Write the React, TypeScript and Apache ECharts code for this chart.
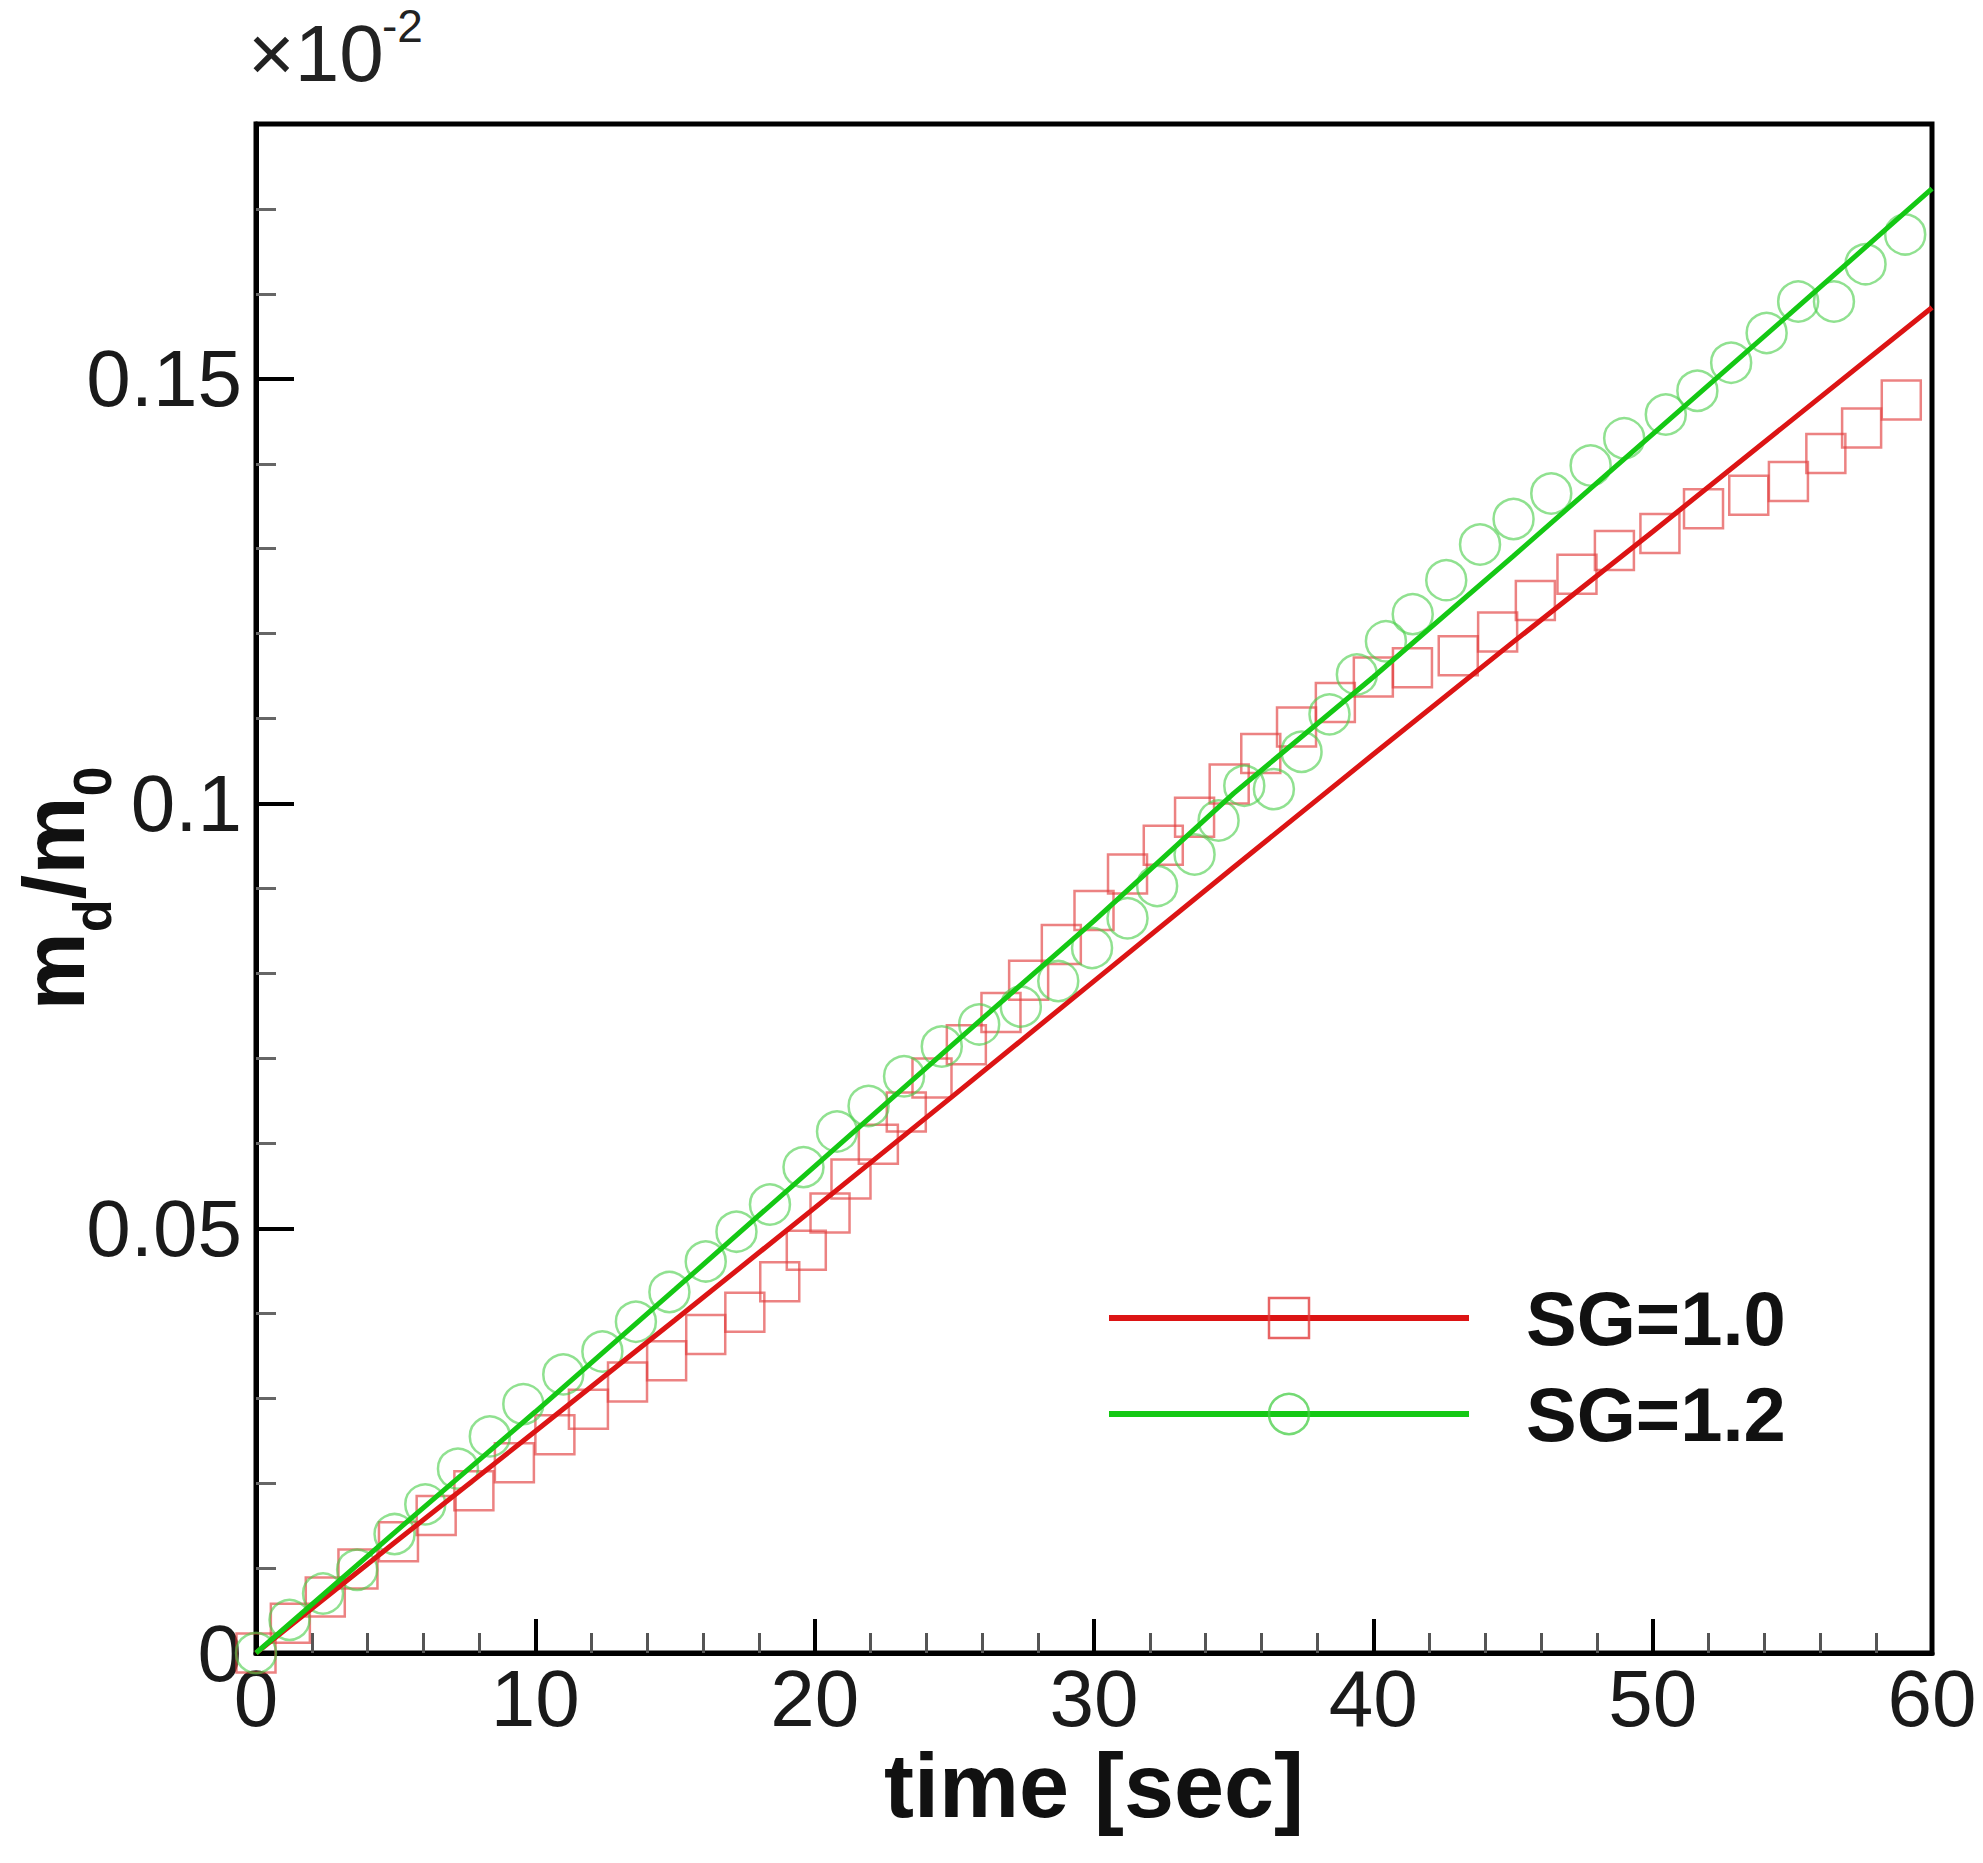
import React, { useEffect, useRef } from "react";
import * as echarts from "echarts";

// ---- data ----
const xTicks = [0, 10, 20, 30, 40, 50, 60];
const yTicks = [0, 0.05, 0.1, 0.15];

// solid curves
const lineT = [0, 5, 10, 15, 20, 25, 30, 35, 40, 45, 50, 55, 60];
const redLineV = [0, 0.0131, 0.0261, 0.0392, 0.0524, 0.0657, 0.0791, 0.0925, 0.1058, 0.119, 0.132, 0.1452, 0.1584];
const greenLineV = [0, 0.0143, 0.0284, 0.0428, 0.0573, 0.0718, 0.0862, 0.1012, 0.1149, 0.1291, 0.1435, 0.1579, 0.1724];

// symbols
const redMarkT = [0, 1.23, 2.48, 3.65, 5.1, 6.45, 7.8, 9.25, 10.7, 11.9, 13.3, 14.7, 16.1, 17.5, 18.75, 19.7, 20.55, 21.3, 22.28, 23.28, 24.2, 25.43, 26.67, 27.66, 28.83, 30.0, 31.2, 32.48, 33.6, 34.84, 35.97, 37.25, 38.64, 40.0, 41.4, 43.04, 44.45, 45.8, 47.29, 48.63, 50.26, 51.82, 53.44, 54.86, 56.2, 57.48, 58.9];
const redMarkV = [0, 0.0035, 0.0066, 0.0099, 0.0131, 0.0162, 0.0191, 0.0224, 0.0257, 0.0287, 0.0319, 0.0344, 0.0375, 0.0401, 0.0437, 0.0474, 0.0518, 0.0558, 0.0599, 0.0637, 0.0677, 0.0716, 0.0754, 0.0792, 0.0834, 0.0874, 0.0917, 0.0951, 0.0984, 0.1023, 0.1059, 0.109, 0.1119, 0.1149, 0.116, 0.1174, 0.1202, 0.1239, 0.127, 0.1298, 0.1318, 0.1347, 0.1363, 0.1379, 0.1412, 0.1442, 0.1475];
const greenMarkT = [0, 1.2, 2.4, 3.62, 4.96, 6.06, 7.23, 8.37, 9.57, 11.0, 12.4, 13.6, 14.8, 16.1, 17.2, 18.4, 19.6, 20.8, 21.93, 23.2, 24.55, 25.89, 27.38, 28.72, 29.93, 31.2, 32.26, 33.6, 34.46, 35.38, 36.44, 37.43, 38.43, 39.41, 40.45, 41.41, 42.61, 43.82, 45.02, 46.37, 47.78, 48.98, 50.47, 51.6, 52.81, 54.08, 55.21, 56.49, 57.62, 59.04];
const greenMarkV = [0, 0.0039, 0.007, 0.0098, 0.014, 0.0175, 0.0217, 0.0255, 0.0293, 0.0328, 0.0355, 0.039, 0.0425, 0.0461, 0.0496, 0.0528, 0.0572, 0.0614, 0.0644, 0.0679, 0.0714, 0.074, 0.0761, 0.0791, 0.083, 0.0865, 0.0903, 0.094, 0.098, 0.1021, 0.1017, 0.1061, 0.1105, 0.1152, 0.1191, 0.1223, 0.1263, 0.1305, 0.1335, 0.1365, 0.1398, 0.143, 0.1458, 0.1486, 0.1519, 0.1554, 0.1591, 0.1591, 0.1635, 0.167];

const seriesNames = ["SG=1.0", "SG=1.2"];
// y-axis title pieces: [text, isSubscript]
const yTitleParts: [string, boolean][] = [["m", false], ["d", true], ["/m", false], ["0", true]];

const zip = (a: number[], b: number[]) => a.map((v, i) => [v, b[i]]);

const RED = "#dc1414";
const GREEN = "#14c814";
const RED_MARK = "rgba(226,60,60,0.8)";
const GREEN_MARK = "rgba(70,205,70,0.75)";
const FONT = "'Liberation Sans', Arial, Helvetica, sans-serif";

// approximate Liberation Sans Bold advance widths (em)
const ADV: Record<string, number> = { m: 0.889, d: 0.611, "/": 0.278, "0": 0.556 };
const textWidth = (s: string, size: number) => s.split("").reduce((a, c) => a + (ADV[c] ?? 0.6) * size, 0);

function buildYTitle(): any[] {
  const big = 88;
  const small = 54;
  const baseMain = 84; // x of the main baseline (text reads bottom to top)
  const baseSub = 111; // x of the subscript baseline
  const total = yTitleParts.reduce((a, [t, sub]) => a + textWidth(t, sub ? small : big), 0);
  const centerY = 124 + (1863 - 124 - 210) / 2;
  let y = centerY + total / 2;
  const els: any[] = [];
  yTitleParts.forEach(([t, sub]) => {
    const size = sub ? small : big;
    const base = sub ? baseSub : baseMain;
    els.push({
      type: "text",
      x: base - 0.3465 * size,
      y,
      rotation: Math.PI / 2,
      style: {
        text: t,
        fontFamily: FONT,
        fontSize: size,
        fontWeight: "bold",
        fill: "#111",
        align: "left",
        verticalAlign: "middle",
      },
    });
    y -= textWidth(t, size);
  });
  return els;
}

export default function App() {
  const ref = useRef<HTMLDivElement>(null);
  useEffect(() => {
    if (!ref.current) return;
    const chart = echarts.init(ref.current, undefined, { renderer: "svg" });
    const option: any = {
      animation: false,
      backgroundColor: "#ffffff",
      grid: {
        left: 256,
        right: 51,
        top: 124,
        bottom: 210,
        containLabel: false,
        outerBoundsMode: "none",
        show: true,
        borderColor: "#000",
        borderWidth: 5,
        backgroundColor: "transparent",
      },
      xAxis: {
        type: "value",
        min: xTicks[0],
        max: xTicks[xTicks.length - 1],
        interval: 10,
        name: "time [sec]",
        nameLocation: "middle",
        nameGap: 88,
        nameMoveOverlap: false,
        nameTextStyle: { fontFamily: FONT, fontSize: 90, fontWeight: "bold", color: "#111" },
        axisLine: { show: true, lineStyle: { color: "#000", width: 5 } },
        axisTick: { show: true, inside: true, length: 34, lineStyle: { color: "#000", width: 4 } },
        minorTick: { show: true, splitNumber: 5, length: 20, lineStyle: { color: "#555", width: 3 } },
        splitLine: { show: false },
        axisLabel: {
          fontFamily: FONT,
          fontSize: 80,
          color: "#1a1a1a",
          margin: 5,
          formatter: (v: number) => (xTicks.includes(v) ? String(v) : ""),
        },
      },
      yAxis: {
        type: "value",
        min: 0,
        max: 0.18,
        interval: 0.05,
        axisLine: { show: true, lineStyle: { color: "#000", width: 5 } },
        axisTick: { show: true, inside: true, length: 38, lineStyle: { color: "#000", width: 4 } },
        minorTick: { show: true, splitNumber: 5, length: 20, lineStyle: { color: "#666", width: 3 } },
        splitLine: { show: false },
        axisLabel: {
          fontFamily: FONT,
          fontSize: 80,
          color: "#1a1a1a",
          margin: 14,
          formatter: (v: number) => {
            const hit = yTicks.find((t) => Math.abs(t - v) < 1e-9);
            return hit === undefined ? "" : String(hit);
          },
        },
      },
      legend: {
        show: true,
        orient: "vertical",
        left: 1106,
        top: 1280,
        padding: 0,
        itemWidth: 360,
        itemHeight: 50,
        itemGap: 20,
        selectedMode: false,
        textStyle: {
          fontFamily: FONT,
          fontSize: 76,
          fontWeight: "bold",
          color: "#111",
          padding: [0, 0, 0, 52],
        },
        data: [
          {
            name: seriesNames[0],
            itemStyle: { color: "rgba(0,0,0,0)", borderColor: RED_MARK, borderWidth: 2.5 },
            lineStyle: { color: RED, width: 6 },
          },
          {
            name: seriesNames[1],
            itemStyle: { color: "rgba(0,0,0,0)", borderColor: GREEN_MARK, borderWidth: 2.5 },
            lineStyle: { color: GREEN, width: 6 },
          },
        ],
      },
      graphic: [
        {
          type: "text",
          left: 248,
          top: 13,
          style: { text: "×10", fontFamily: FONT, fontSize: 80, fill: "#222" },
        },
        {
          type: "text",
          left: 382,
          top: 3,
          style: { text: "-2", fontFamily: FONT, fontSize: 46, fill: "#222" },
        },
        ...buildYTitle(),
      ],
      series: [
        {
          name: seriesNames[0],
          type: "line",
          data: zip(lineT, redLineV),
          showSymbol: false,
          symbol: "rect",
          symbolSize: 39,
          lineStyle: { color: RED, width: 5 },
          itemStyle: { color: "rgba(0,0,0,0)", borderColor: RED_MARK, borderWidth: 2.5 },
          z: 3,
        },
        {
          name: "SG=1.0 symbols",
          type: "scatter",
          data: zip(redMarkT, redMarkV),
          symbol: "rect",
          symbolSize: 39,
          itemStyle: { color: "rgba(0,0,0,0)", borderColor: RED_MARK, borderWidth: 2.5 },
          z: 2,
        },
        {
          name: seriesNames[1],
          type: "line",
          data: zip(lineT, greenLineV),
          showSymbol: false,
          symbol: "circle",
          symbolSize: 40,
          lineStyle: { color: GREEN, width: 5 },
          itemStyle: { color: "rgba(0,0,0,0)", borderColor: GREEN_MARK, borderWidth: 2.5 },
          z: 4,
        },
        {
          name: "SG=1.2 symbols",
          type: "scatter",
          data: zip(greenMarkT, greenMarkV),
          symbol: "circle",
          symbolSize: 40,
          itemStyle: { color: "rgba(0,0,0,0)", borderColor: GREEN_MARK, borderWidth: 2.5 },
          z: 2,
        },
      ],
    };
    chart.setOption(option);
    return () => chart.dispose();
  }, []);
  return (
    <div
      ref={ref}
      style={{ position: "fixed", left: 0, top: 0, width: 1983, height: 1863, background: "#fff" }}
    />
  );
}
